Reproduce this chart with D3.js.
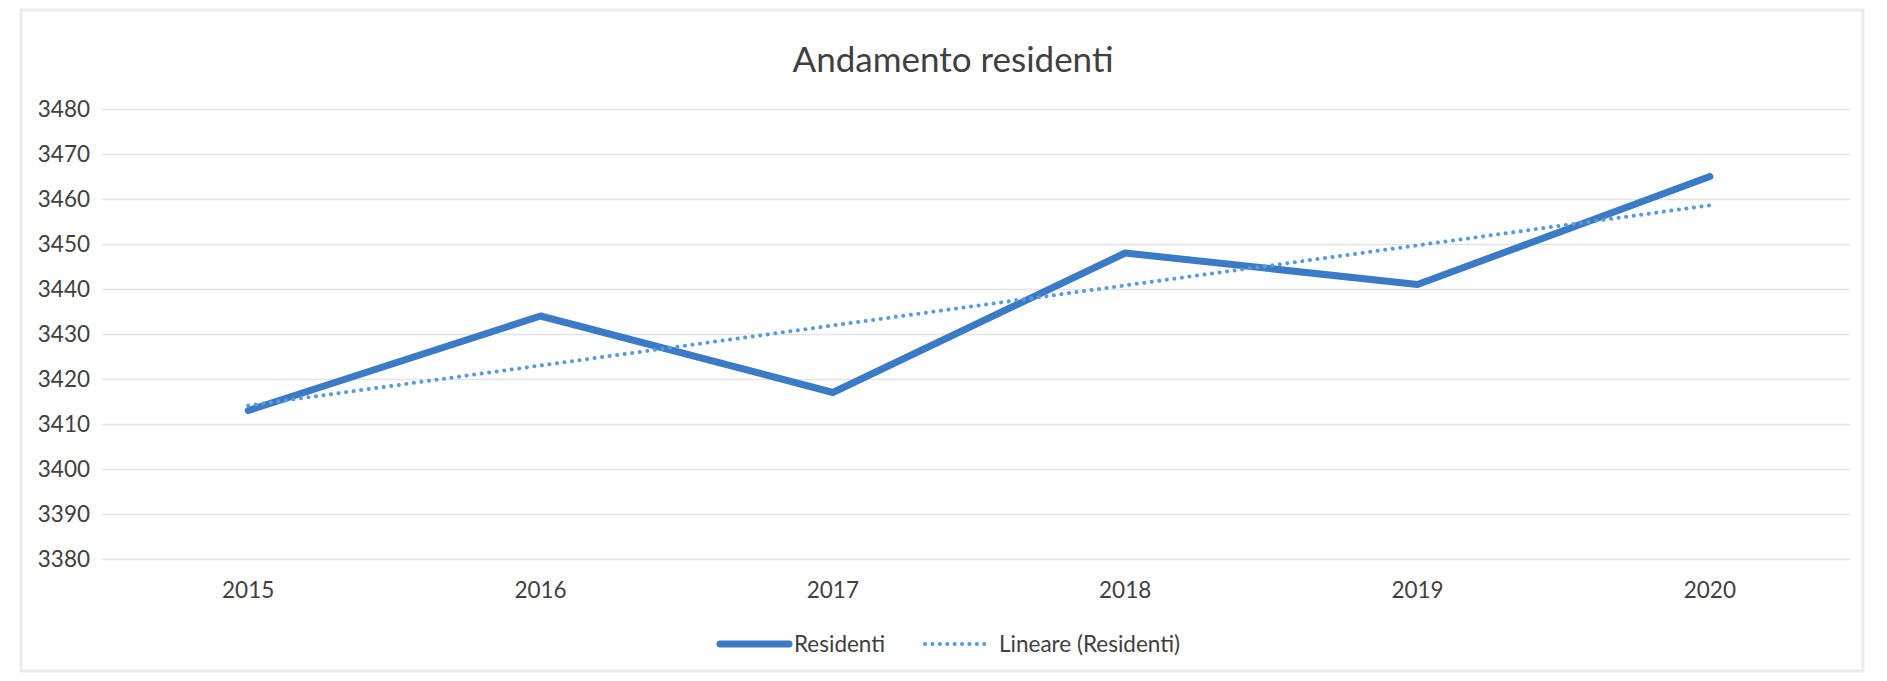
<!DOCTYPE html>
<html>
<head>
<meta charset="utf-8">
<script src="https://cdn.jsdelivr.net/npm/d3@7/dist/d3.min.js"></script>
<style>
  html, body { margin: 0; padding: 0; background: #ffffff; }
  svg { display: block; }
  text { font-family: Lato, "Open Sans", sans-serif; fill: #404040; }
</style>
</head>
<body>
<svg id="chart" width="1887" height="681"></svg>
<script>
// ---- data ----
const years = ["2015", "2016", "2017", "2018", "2019", "2020"];
const residenti = [3413, 3434, 3417, 3448, 3441, 3465];
// linear trend line (Lineare (Residenti)) endpoints
const trendYears = ["2015", "2020"];
const trendValues = [3414.1, 3458.6];
const yTicks = [3380, 3390, 3400, 3410, 3420, 3430, 3440, 3450, 3460, 3470, 3480];
const title = "Andamento residenti";
const legendLabels = ["Residenti", "Lineare (Residenti)"];

// ---- layout ----
const plot = { left: 102, right: 1856, top: 109, bottom: 559 };
const svg = d3.select("#chart");
const FS = 22.5;

// chart area border
svg.append("rect")
  .attr("x", 21).attr("y", 10)
  .attr("width", 1842).attr("height", 661)
  .attr("fill", "#ffffff")
  .attr("stroke", "#ebebeb")
  .attr("stroke-width", 3);

const x = d3.scaleBand().domain(years).range([plot.left, plot.right]);
const xc = d => x(d) + x.bandwidth() / 2;
const y = d3.scaleLinear().domain([3380, 3480]).range([plot.bottom, plot.top]);

// gridlines + y labels
const yAxis = d3.axisLeft(y).tickValues(yTicks).tickSize(-(plot.right - plot.left - 6)).tickPadding(12).tickFormat(d3.format("d"));
const gy = svg.append("g").attr("transform", `translate(${plot.left},0)`).call(yAxis);
gy.select(".domain").remove();
gy.selectAll(".tick line").attr("stroke", "#e3e3e3").attr("stroke-width", 1.5);
gy.selectAll(".tick text").attr("font-size", FS).attr("fill", "#404040")
  .attr("font-family", "Lato, 'Open Sans', sans-serif");

// x axis labels
const xAxis = d3.axisBottom(x).tickSize(0).tickPadding(23);
const gx = svg.append("g").attr("transform", `translate(0,${plot.bottom})`).call(xAxis);
gx.select(".domain").remove();
gx.selectAll(".tick text").attr("font-size", FS).attr("fill", "#404040")
  .attr("font-family", "Lato, 'Open Sans', sans-serif");

// data line
const line = d3.line().x((d, i) => xc(years[i])).y(d => y(d));
svg.append("path")
  .datum(residenti)
  .attr("d", line)
  .attr("fill", "none")
  .attr("stroke", "#3b7bc6")
  .attr("stroke-width", 7)
  .attr("stroke-linejoin", "round")
  .attr("stroke-linecap", "round");

// trend line
const tline = d3.line().x((d, i) => xc(trendYears[i])).y(d => y(d));
svg.append("path")
  .datum(trendValues)
  .attr("d", tline)
  .attr("fill", "none")
  .attr("stroke", "#5b9bd8")
  .attr("stroke-width", 4)
  .attr("stroke-linecap", "round")
  .attr("stroke-dasharray", "0.1 7.5");

// title
svg.append("text")
  .attr("x", 953).attr("y", 72)
  .attr("text-anchor", "middle")
  .attr("font-size", 35)
  .text(title);

// legend
const ly = 644;
svg.append("line").attr("x1", 720).attr("x2", 789).attr("y1", ly).attr("y2", ly)
  .attr("stroke", "#3b7bc6").attr("stroke-width", 7).attr("stroke-linecap", "round");
svg.append("text").attr("x", 794).attr("y", ly + 8).attr("font-size", FS).text(legendLabels[0]);
svg.append("line").attr("x1", 925).attr("x2", 989).attr("y1", ly).attr("y2", ly)
  .attr("stroke", "#5b9bd8").attr("stroke-width", 4).attr("stroke-linecap", "round")
  .attr("stroke-dasharray", "0.1 7.3");
svg.append("text").attr("x", 999).attr("y", ly + 8).attr("font-size", FS).text(legendLabels[1]);
</script>
</body>
</html>
